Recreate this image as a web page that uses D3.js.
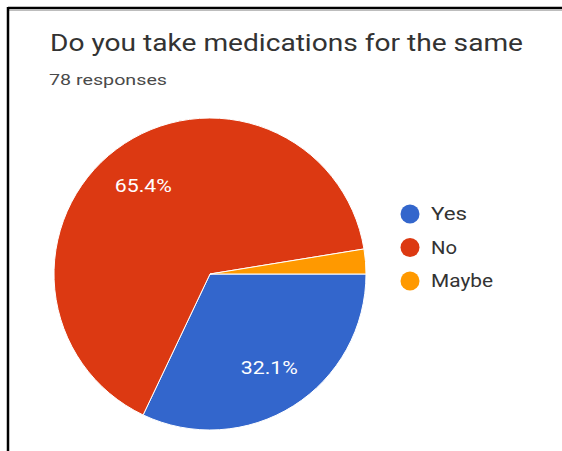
<!DOCTYPE html>
<html>
<head>
<meta charset="utf-8">
<script src="https://cdn.jsdelivr.net/npm/d3@7"></script>
<style>
  html, body { margin: 0; padding: 0; background: #fff; }
  svg { display: block; }
</style>
</head>
<body>
<svg id="chart" width="562" height="451"></svg>
<script>
// Survey answers
const categories = ["Yes", "No", "Maybe"];
const counts = [25, 51, 2];
const colors = ["#3366cc", "#dc3912", "#ff9900"];
const sliceLabels = ["32.1%", "65.4%", ""];
const title = "Do you take medications for the same";
const subtitle = "78 responses";

const svg = d3.select("#chart");
const font = "Roboto, Arial, sans-serif";

// Card frame: top and left rules
svg.append("line").attr("x1", 8).attr("x2", 562).attr("y1", 8).attr("y2", 8)
  .attr("stroke", "#000").attr("stroke-width", 2.5);
svg.append("line").attr("x1", 8).attr("x2", 562).attr("y1", 10.5).attr("y2", 10.5)
  .attr("stroke", "#bdbdbd").attr("stroke-width", 1);
svg.append("line").attr("x1", 8).attr("x2", 8).attr("y1", 7).attr("y2", 451)
  .attr("stroke", "#000").attr("stroke-width", 2.5);

// Heading
svg.append("text").attr("x", 50).attr("y", 51)
  .attr("font-family", font).attr("font-size", 23).attr("fill", "#333")
  .attr("textLength", 473).attr("lengthAdjust", "spacingAndGlyphs")
  .text(title);
svg.append("text").attr("x", 49).attr("y", 85)
  .attr("font-family", font).attr("font-size", 15.5).attr("fill", "#4a4a4a")
  .attr("textLength", 118).attr("lengthAdjust", "spacingAndGlyphs")
  .text(subtitle);

// Pie
const cx = 210, cy = 274, R = 156;
const pie = d3.pie().sort(null).value(d => d)
  .startAngle(Math.PI / 2).endAngle(Math.PI / 2 + 2 * Math.PI);
const arcs = pie(counts);
const arc = d3.arc().innerRadius(0).outerRadius(R);
const labelArc = d3.arc().innerRadius(111).outerRadius(111);

const g = svg.append("g").attr("transform", `translate(${cx},${cy})`);
g.selectAll("path").data(arcs).join("path")
  .attr("d", arc)
  .attr("fill", (d, i) => colors[i])
  .attr("stroke", "#fff").attr("stroke-width", 1);

g.selectAll("text.lbl").data(arcs.filter((d, i) => sliceLabels[i])).join("text")
  .attr("class", "lbl")
  .attr("transform", d => `translate(${labelArc.centroid(d)})`)
  .attr("text-anchor", "middle").attr("dy", "0.36em")
  .attr("font-family", font).attr("font-size", 18).attr("fill", "#fff")
  .attr("textLength", 57).attr("lengthAdjust", "spacingAndGlyphs")
  .text(d => sliceLabels[d.index]);

// Legend
const legend = svg.append("g");
const ly = d3.scalePoint().domain(categories).range([214, 281]);
const legendWidths = [36, 26, 62];
categories.forEach((c, i) => {
  legend.append("circle").attr("cx", 410).attr("cy", ly(c)).attr("r", 9.5)
    .attr("fill", colors[i]);
  legend.append("text").attr("x", 431).attr("y", ly(c)).attr("dy", "0.36em")
    .attr("font-family", font).attr("font-size", 18).attr("fill", "#333")
    .attr("textLength", legendWidths[i]).attr("lengthAdjust", "spacingAndGlyphs")
    .text(c);
});
</script>
</body>
</html>
